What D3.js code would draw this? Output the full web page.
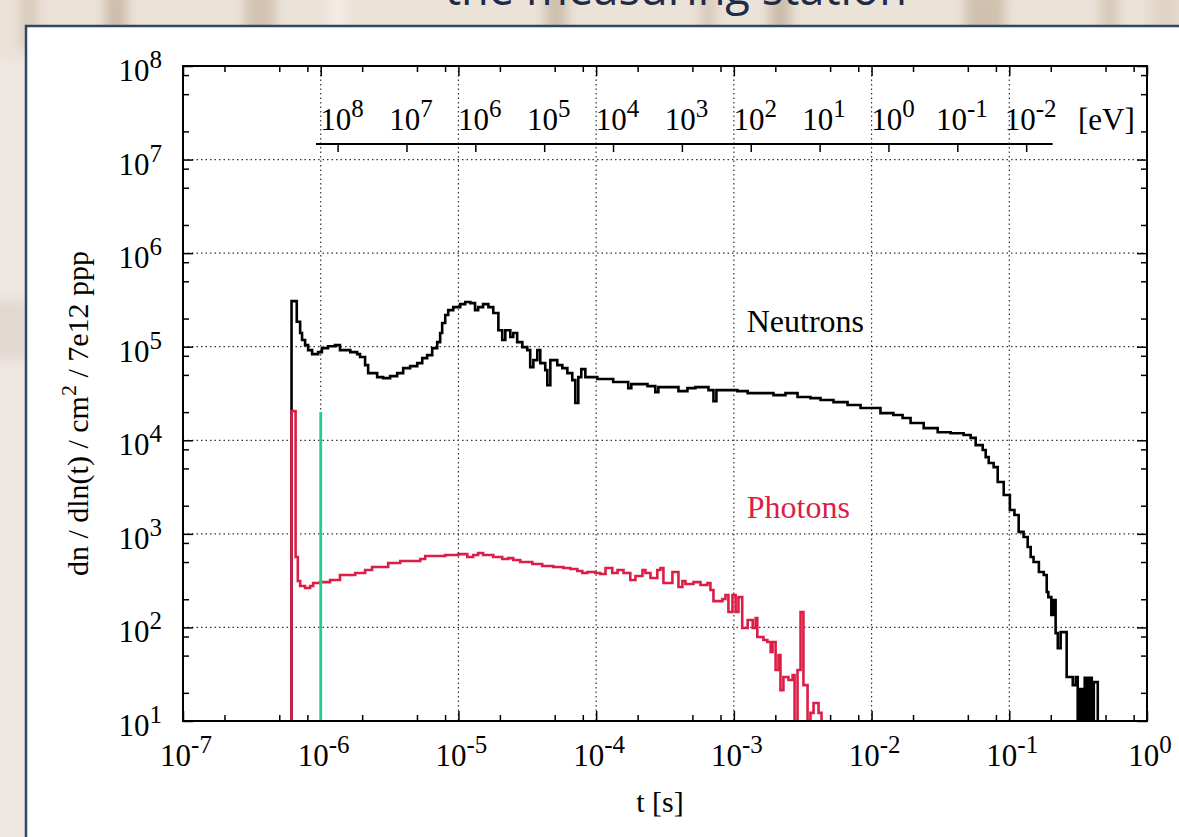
<!DOCTYPE html>
<html>
<head>
<meta charset="utf-8">
<script src="https://cdnjs.cloudflare.com/ajax/libs/d3/7.8.5/d3.min.js"></script>
<style>
  body { margin: 0; background: #e8ded3; }
  svg text { font-family: "Liberation Serif", "Times New Roman", serif; }
  .grid line { stroke: #333; stroke-width: 1.2; stroke-dasharray: 1.5 3; }
  .tick line { stroke: #000; stroke-width: 1.5; }
</style>
</head>
<body>
<svg width="1179" height="837"></svg>
<script>
// neutron histogram: bin lower edges (last entry = upper edge of last bin) and counts
const neutronT = [6.14e-7, 6.70e-7, 7.09e-7, 7.32e-7, 7.70e-7, 8.10e-7, 8.66e-7, 9.57e-7, 1.02e-6, 1.13e-6,
  1.27e-6, 1.38e-6, 1.64e-6, 1.84e-6, 1.93e-6, 2.10e-6, 2.21e-6, 2.57e-6, 2.84e-6, 3.19e-6,
  3.59e-6, 3.97e-6, 4.46e-6, 5.02e-6, 5.46e-6, 5.93e-6, 6.45e-6, 7.01e-6, 7.37e-6, 7.62e-6,
  8.02e-6, 8.43e-6, 9.17e-6, 1.03e-5, 1.12e-5, 1.22e-5, 1.32e-5, 1.39e-5, 1.51e-5, 1.65e-5,
  1.79e-5, 1.95e-5, 2.08e-5, 2.19e-5, 2.38e-5, 2.50e-5, 2.67e-5, 2.91e-5, 3.16e-5, 3.32e-5,
  3.50e-5, 3.74e-5, 3.93e-5, 4.27e-5, 4.42e-5, 4.65e-5, 5.22e-5, 5.68e-5, 6.18e-5, 6.71e-5,
  7.06e-5, 7.42e-5, 7.80e-5, 8.35e-5, 1.02e-4, 1.33e-4, 1.71e-4, 1.80e-4, 2.36e-4, 2.69e-4,
  2.83e-4, 3.96e-4, 4.60e-4, 5.26e-4, 6.54e-4, 7.11e-4, 7.47e-4, 1.06e-3, 1.26e-3, 1.94e-3,
  2.37e-3, 2.90e-3, 3.60e-3, 4.26e-3, 5.29e-3, 6.69e-3, 8.32e-3, 1.16e-2, 1.44e-2, 1.68e-2,
  1.92e-2, 2.39e-2, 3.02e-2, 3.75e-2, 4.66e-2, 5.24e-2, 5.70e-2, 6.41e-2, 6.74e-2, 7.09e-2,
  7.70e-2, 8.24e-2, 9.11e-2, 1.01e-1, 1.09e-1, 1.17e-1, 1.27e-1, 1.36e-1, 1.43e-1, 1.50e-1,
  1.64e-1, 1.78e-1, 1.87e-1, 1.92e-1, 2.02e-1, 2.10e-1, 2.17e-1, 2.25e-1, 2.36e-1, 2.61e-1,
  2.89e-1, 3.04e-1, 3.14e-1, 3.27e-1, 3.40e-1, 3.53e-1, 3.68e-1, 3.81e-1, 3.97e-1, 4.11e-1,
  4.39e-1];
const neutronN = [3.07e5, 1.85e5, 1.40e5, 1.18e5, 1.04e5, 9.20e4, 8.34e4, 8.76e4, 9.67e4, 1.01e5,
  1.04e5, 9.20e4, 8.76e4, 8.34e4, 7.75e4, 6.36e4, 5.22e4, 4.73e4, 4.62e4, 4.85e4,
  5.22e4, 5.91e4, 6.21e4, 6.68e4, 7.56e4, 8.14e4, 9.67e4, 1.12e5, 1.40e5, 1.79e5,
  2.18e5, 2.46e5, 2.65e5, 2.85e5, 3.00e5, 2.92e5, 2.46e5, 2.65e5, 2.85e5, 2.65e5,
  2.29e5, 1.50e5, 1.18e5, 1.50e5, 1.27e5, 1.40e5, 1.12e5, 9.90e4, 9.20e4, 6.05e4,
  7.19e4, 9.20e4, 6.68e4, 5.62e4, 3.89e4, 7.19e4, 6.36e4, 5.91e4, 5.22e4, 4.40e4,
  2.50e4, 4.73e4, 5.76e4, 4.73e4, 4.51e4, 4.19e4, 3.61e4, 3.98e4, 3.79e4, 3.27e4,
  3.70e4, 3.35e4, 3.61e4, 3.70e4, 3.44e4, 2.62e4, 3.44e4, 3.35e4, 3.19e4, 3.04e4,
  3.19e4, 2.90e4, 2.82e4, 2.69e4, 2.56e4, 2.38e4, 2.21e4, 1.95e4, 1.86e4, 1.73e4,
  1.53e4, 1.35e4, 1.22e4, 1.19e4, 1.14e4, 1.06e4, 8.88e3, 7.86e3, 6.61e3, 5.71e3,
  5.17e3, 3.58e3, 2.60e3, 1.80e3, 1.59e3, 1.05e3, 925, 723, 565, 500,
  391, 363, 239, 211, 136, 196, 87, 60, 89, 29.5,
  24.2, 29.5, 0, 22, 0, 29, 0, 29, 0, 26];

// photon histogram
const photonT = [6.14e-7, 6.57e-7, 6.82e-7, 7.09e-7, 7.70e-7, 8.38e-7, 8.81e-7, 9.90e-7, 1.17e-6, 1.38e-6,
  1.78e-6, 2.10e-6, 2.36e-6, 3.09e-6, 3.78e-6, 5.28e-6, 5.74e-6, 8.02e-6, 9.97e-6, 1.16e-5,
  1.28e-5, 1.39e-5, 1.51e-5, 1.79e-5, 2.08e-5, 2.30e-5, 2.50e-5, 2.81e-5, 3.44e-5, 4.06e-5,
  4.89e-5, 5.78e-5, 6.49e-5, 7.30e-5, 7.94e-5, 8.63e-5, 9.87e-5, 1.07e-4, 1.17e-4, 1.31e-4,
  1.43e-4, 1.58e-4, 1.77e-4, 1.93e-4, 2.17e-4, 2.28e-4, 2.48e-4, 2.78e-4, 2.93e-4, 3.08e-4,
  3.58e-4, 3.96e-4, 4.23e-4, 4.45e-4, 5.09e-4, 5.72e-4, 6.43e-4, 6.76e-4, 7.11e-4, 8.26e-4,
  8.69e-4, 9.13e-4, 9.77e-4, 1.03e-3, 1.08e-3, 1.15e-3, 1.26e-3, 1.37e-3, 1.44e-3, 1.48e-3,
  1.64e-3, 1.75e-3, 1.85e-3, 1.91e-3, 2.01e-3, 2.11e-3, 2.18e-3, 2.29e-3, 2.49e-3, 2.67e-3,
  2.76e-3, 2.90e-3, 3.05e-3, 3.20e-3, 3.43e-3, 3.60e-3, 3.79e-3, 4.12e-3, 4.33e-3];
const photonN = [2.05e4, 565, 313, 277, 264, 277, 298, 305, 321, 363,
  381, 411, 442, 488, 512, 538, 579, 594, 608, 565,
  594, 624, 594, 565, 538, 551, 525, 500, 476, 453,
  442, 431, 421, 401, 381, 391, 381, 372, 431, 381,
  411, 381, 321, 354, 411, 381, 337, 411, 431, 298,
  391, 270, 313, 291, 305, 284, 298, 251, 191, 201,
  222, 146, 222, 146, 211, 98.5, 120, 98.5, 126, 78.9,
  73.4, 69.8, 54.6, 69.8, 35.1, 50.7, 21.4, 29.5, 27.4, 31.0,
  0, 35.1, 146, 24.2, 0, 12.2, 15.6, 12.2];

// green marker line [t, top]
const markerLine = [1.0e-6, 2.0e4];

// tick label exponents
const xTickExp = [-7, -6, -5, -4, -3, -2, -1, 0];
const yTickExp = [1, 2, 3, 4, 5, 6, 7, 8];
const minorMult = [2, 5, 8];
const energyTickExp = [8, 7, 6, 5, 4, 3, 2, 1, 0, -1, -2];
const energySpan = [2.1e8, 4.2e-3];

// labels placed in data coordinates
const seriesLabels = [
  {text: "Neutrons", t: 1.24e-3, v: 1.43e5, color: "#000"},
  {text: "Photons", t: 1.24e-3, v: 1.48e3, color: "#dc1e46"}
];

// time of flight for a neutron of energy E (eV) over the flight path
const flightPath = 185, neutronMass = 939.565e6, lightSpeed = 2.998e8;
function tof(E) { return flightPath / (lightSpeed * Math.sqrt(2 * E / neutronMass)); }

const svg = d3.select("svg");

// blurred slide background
const defs = svg.append("defs");
defs.append("filter").attr("id", "blur").append("feGaussianBlur").attr("stdDeviation", 6);
defs.append("clipPath").attr("id", "plotclip").append("rect")
  .attr("x", 183).attr("y", 66).attr("width", 964).attr("height", 655);

svg.append("rect").attr("width", 1179).attr("height", 837).attr("fill", "#ebe2d8");
const bg = svg.append("g").attr("filter", "url(#blur)");
[[20, 18, "#d9cbbb"], [105, 22, "#cdbcaa"], [245, 30, "#d2c2b1"], [330, 14, "#f6efe6"], [545, 22, "#cfc0ae"],
 [700, 16, "#d8cab9"], [770, 20, "#cbbba8"], [965, 40, "#d0c1af"], [1100, 18, "#d6c8b7"], [1150, 30, "#e0d4c6"]]
  .forEach(function(s) {
    bg.append("rect").attr("x", s[0]).attr("y", -10).attr("width", s[1]).attr("height", 60).attr("fill", s[2]);
  });
bg.append("rect").attr("x", -10).attr("y", 60).attr("width", 40).attr("height", 800).attr("fill", "#efe7e2");
bg.append("rect").attr("x", -10).attr("y", 300).attr("width", 40).attr("height", 60).attr("fill", "#e2d8d2");

svg.append("text")
  .attr("x", 676).attr("y", 5)
  .attr("text-anchor", "middle")
  .style("font-family", "'Open Sans', sans-serif")
  .style("font-size", "48px")
  .attr("fill", "#1d2b48")
  .attr("textLength", 462)
  .attr("lengthAdjust", "spacingAndGlyphs")
  .text("the measuring station");

// white panel
svg.append("rect")
  .attr("x", 26).attr("y", 26).attr("width", 1170).attr("height", 830)
  .attr("fill", "#fff").attr("stroke", "#2f4866").attr("stroke-width", 2.5);

// scales
const x = d3.scaleLog().domain([1e-7, 1e0]).range([183, 1147]);
const y = d3.scaleLog().domain([1e1, 1e8]).range([721, 66]);
const plotTop = y.range()[1], plotBottom = y.range()[0], plotLeft = x.range()[0], plotRight = x.range()[1];

const xMajor = xTickExp.map(function(e) { return Math.pow(10, e); });
const yMajor = yTickExp.map(function(e) { return Math.pow(10, e); });
const xMinor = [], yMinor = [];
xTickExp.slice(0, -1).forEach(function(e) { minorMult.forEach(function(m) { xMinor.push(m * Math.pow(10, e)); }); });
yTickExp.slice(0, -1).forEach(function(e) { minorMult.forEach(function(m) { yMinor.push(m * Math.pow(10, e)); }); });

// grid
svg.append("g").attr("class", "grid")
  .selectAll("line").data(xMajor.slice(1, -1)).enter().append("line")
  .attr("x1", function(d) { return x(d); }).attr("x2", function(d) { return x(d); })
  .attr("y1", plotTop).attr("y2", plotBottom);
svg.append("g").attr("class", "grid")
  .selectAll("line").data(yMajor.slice(1, -1)).enter().append("line")
  .attr("y1", function(d) { return y(d); }).attr("y2", function(d) { return y(d); })
  .attr("x1", plotLeft).attr("x2", plotRight);

// ticks on all four sides, pointing inward
function ticks(axis, vals, size, tr) {
  const g = svg.append("g").attr("transform", tr)
    .call(axis.tickValues(vals).tickSize(size).tickFormat(""));
  g.select(".domain").remove();
}
[[xMajor, 10], [xMinor, 6]].forEach(function(p) {
  ticks(d3.axisTop(x), p[0], p[1], "translate(0," + plotBottom + ")");
  ticks(d3.axisBottom(x), p[0], p[1], "translate(0," + plotTop + ")");
});
[[yMajor, 10], [yMinor, 6]].forEach(function(p) {
  ticks(d3.axisRight(y), p[0], p[1], "translate(" + plotLeft + ",0)");
  ticks(d3.axisLeft(y), p[0], p[1], "translate(" + plotRight + ",0)");
});

// histograms as steps
const line = d3.line()
  .curve(d3.curveStepAfter)
  .x(function(d) { return x(d[0]); })
  .y(function(d) { return y(Math.max(d[1], y.domain()[0])); });
function stepPoints(T, N) {
  const pts = [[T[0], 0]];
  N.forEach(function(v, i) { pts.push([T[i], v]); });
  pts.push([T[T.length - 1], N[N.length - 1]]);
  pts.push([T[T.length - 1], 0]);
  return pts;
}
const plot = svg.append("g").attr("clip-path", "url(#plotclip)");
plot.append("path")
  .attr("d", line(stepPoints(neutronT, neutronN)))
  .attr("fill", "none").attr("stroke", "#000").attr("stroke-width", 2.6).attr("stroke-linejoin", "miter");
plot.append("path")
  .attr("d", line(stepPoints(photonT, photonN)))
  .attr("fill", "none").attr("stroke", "#dc1e46").attr("stroke-width", 2.6).attr("stroke-linejoin", "miter");
plot.append("line")
  .attr("x1", x(markerLine[0])).attr("x2", x(markerLine[0]))
  .attr("y1", y(markerLine[1])).attr("y2", plotBottom)
  .attr("stroke", "#1fcf8c").attr("stroke-width", 2.8);

// border
svg.append("rect")
  .attr("x", plotLeft).attr("y", plotTop).attr("width", plotRight - plotLeft).attr("height", plotBottom - plotTop)
  .attr("fill", "none").attr("stroke", "#000").attr("stroke-width", 2);

// power-of-ten labels
function power(sel, exp) {
  sel.append("tspan").text("10");
  sel.append("tspan").attr("dy", -13).style("font-size", "25px").text(String(exp));
}
const fs = "31px";
xTickExp.forEach(function(e) {
  svg.append("text").attr("x", x(Math.pow(10, e)) + 3).attr("y", plotBottom + 45)
    .attr("text-anchor", "middle").style("font-size", fs).call(power, e);
});
yTickExp.forEach(function(e) {
  svg.append("text").attr("x", 162).attr("y", y(Math.pow(10, e)) + 15)
    .attr("text-anchor", "end").style("font-size", fs).call(power, e);
});

// energy axis
const eAxisY = 144;
svg.append("line")
  .attr("x1", x(tof(energySpan[0]))).attr("x2", x(tof(energySpan[1])))
  .attr("y1", eAxisY).attr("y2", eAxisY)
  .attr("stroke", "#000").attr("stroke-width", 2);
energyTickExp.forEach(function(e) {
  const ex = x(tof(Math.pow(10, e)));
  svg.append("line").attr("x1", ex).attr("x2", ex).attr("y1", eAxisY).attr("y2", eAxisY + 8)
    .attr("stroke", "#000").attr("stroke-width", 1.5);
  svg.append("text").attr("x", ex + 4).attr("y", eAxisY - 14)
    .attr("text-anchor", "middle").style("font-size", fs).call(power, e);
});
svg.append("text").attr("x", 1078).attr("y", eAxisY - 14).style("font-size", fs).text("[eV]");

// axis titles
svg.append("text").attr("x", (plotLeft + plotRight) / 2 - 5).attr("y", 812)
  .attr("text-anchor", "middle").style("font-size", "30px").text("t [s]");
const yt = svg.append("text")
  .attr("transform", "translate(88," + ((plotTop + plotBottom) / 2 + 20) + ") rotate(-90)")
  .attr("text-anchor", "middle").style("font-size", "30px");
yt.append("tspan").text("dn / dln(t) / cm");
yt.append("tspan").attr("dy", -12).style("font-size", "22px").text("2");
yt.append("tspan").attr("dy", 12).text(" / 7e12 ppp");

// series labels
seriesLabels.forEach(function(l) {
  svg.append("text").attr("x", x(l.t)).attr("y", y(l.v))
    .style("font-size", "32px").attr("fill", l.color).text(l.text);
});
</script>
</body>
</html>
